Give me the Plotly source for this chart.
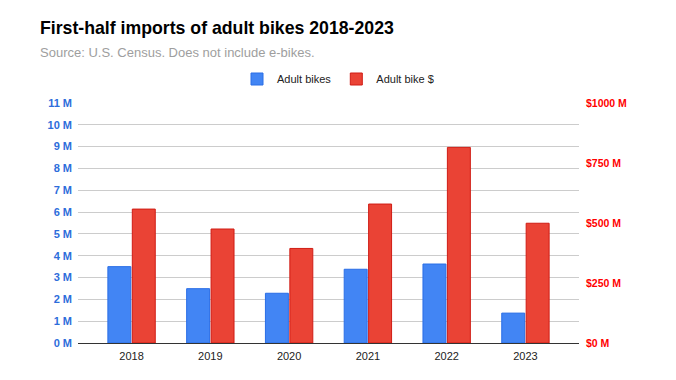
import plotly.graph_objects as go

years = ["2018", "2019", "2020", "2021", "2022", "2023"]
adult_bikes_m = [3.50, 2.49, 2.28, 3.38, 3.62, 1.37]
adult_bike_dollars_m = [558, 475, 394, 579, 815, 499]

left_ticks = list(range(0, 12))
left_labels = [f"{v} M" for v in left_ticks]
right_ticks = [0, 250, 500, 750, 1000]
right_labels = [f"${v} M" for v in right_ticks]

FONT = "Liberation Sans, Arial, sans-serif"

fig = go.Figure()
fig.add_trace(go.Bar(
    x=years, y=adult_bikes_m, name="Adult bikes", yaxis="y",
    offsetgroup="a",
    marker=dict(color="#4285f4", line=dict(color="#2a6ee6", width=1)),
))
fig.add_trace(go.Bar(
    x=years, y=adult_bike_dollars_m, name="Adult bike $", yaxis="y2",
    offsetgroup="b",
    marker=dict(color="#ea4335", line=dict(color="#d01c14", width=1)),
))

fig.update_layout(
    width=676, height=380,
    margin=dict(l=78, r=97, t=103, b=37, autoexpand=False),
    paper_bgcolor="white", plot_bgcolor="white",
    font=dict(family=FONT, color="#222222"),
    barmode="group", bargap=0.38, bargroupgap=0.06,
    showlegend=True,
    legend=dict(
        orientation="h", xref="container", yref="container",
        x=0.5, xanchor="center", y=1 - 79 / 380, yanchor="middle",
        font=dict(size=11, color="#222222", family=FONT),
        itemwidth=30, bgcolor="rgba(0,0,0,0)",
    ),
    xaxis=dict(
        type="category", range=[-0.68, 5.68],
        showgrid=False, showline=True, linecolor="#333333", linewidth=1,
        tickfont=dict(size=11, color="#222222", family=FONT),
        ticks="", ticklabelstandoff=3,
    ),
    yaxis=dict(
        range=[0, 11], tickvals=left_ticks, ticktext=left_labels,
        showgrid=True, gridcolor="#cccccc", gridwidth=1,
        zeroline=False, showline=False,
        tickfont=dict(size=11, color="#2d6ddb", family=FONT, weight="bold"),
        ticks="", ticklabelstandoff=5,
    ),
    yaxis2=dict(
        range=[0, 1000], tickvals=right_ticks, ticktext=right_labels,
        overlaying="y", side="right", showgrid=False, zeroline=False, showline=False,
        tickfont=dict(size=10.5, color="#ff0000", family=FONT, weight="bold"),
        ticks="", ticklabelstandoff=6,
    ),
)

plot_h = 380 - 103 - 37
plot_w = 676 - 78 - 97
def px_to_paper_x(px):
    return (px - 78) / plot_w
def px_to_paper_y(py):
    return (380 - 37 - py) / plot_h

fig.add_annotation(
    text="<b>First-half imports of adult bikes 2018-2023</b>",
    xref="paper", yref="paper", x=px_to_paper_x(38), y=px_to_paper_y(28),
    showarrow=False, xanchor="left", yanchor="middle",
    font=dict(size=17.7, color="#000000", family=FONT))
fig.add_annotation(
    text="Source: U.S. Census. Does not include e-bikes.",
    xref="paper", yref="paper", x=px_to_paper_x(38), y=px_to_paper_y(52),
    showarrow=False, xanchor="left", yanchor="middle",
    font=dict(size=13, color="#9e9e9e", family=FONT))

fig.write_html("out.html", config={"displayModeBar": False},
               post_script="document.body.style.margin='0';")
